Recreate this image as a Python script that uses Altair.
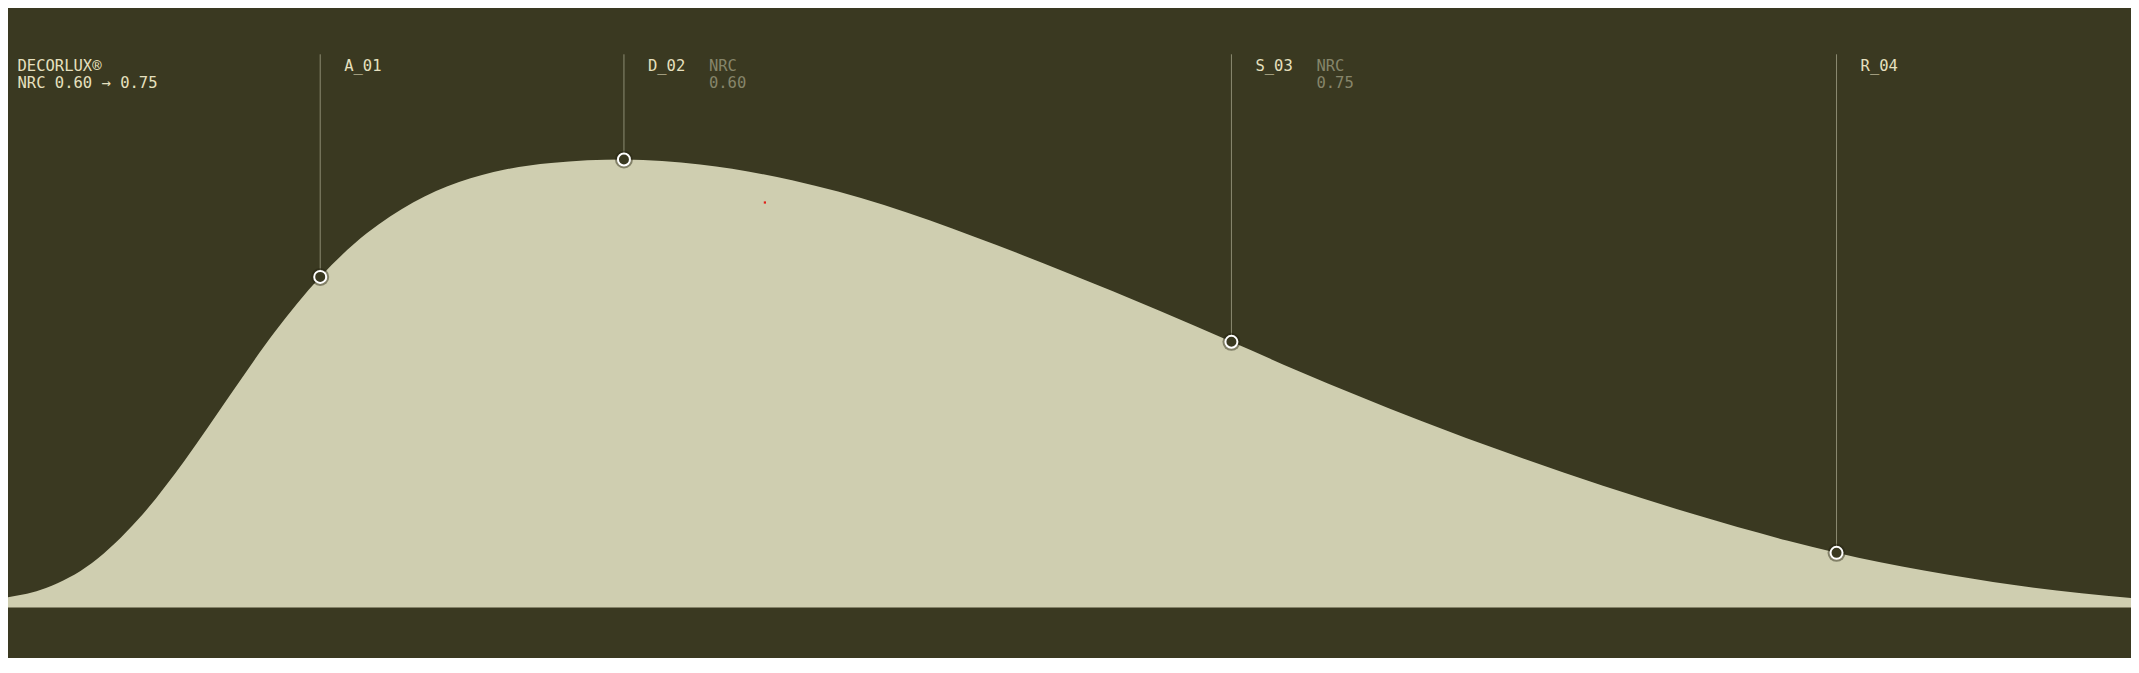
import altair as alt
import pandas as pd

# absorption curve, x = position along the band (0-100), y = relative absorption (peak = 1)
curve_x = [0, 2.15, 4.30, 6.45, 8.60, 10.75, 12.86, 14.97, 17.16, 19.31, 21.46, 23.61,
           25.76, 29.17, 32.73, 37.03, 41.33, 45.58, 49.88, 54.18, 57.57, 60.64, 66.39,
           70.69, 74.94, 79.24, 83.54, 85.86, 89.95, 94.25, 100]
curve_y = [0.0205, 0.0433, 0.0993, 0.1962, 0.3261, 0.4737, 0.6161, 0.738, 0.8357, 0.9042,
           0.9498, 0.9777, 0.9922, 1.0, 0.9886, 0.9538, 0.8984, 0.8272, 0.7471, 0.6629,
           0.593, 0.5292, 0.4176, 0.3415, 0.2717, 0.2074, 0.1496, 0.122, 0.0824, 0.0496, 0.0194]

# products marked on the curve
marker_id = ["A_01", "D_02", "S_03", "R_04"]
marker_x = [14.97, 29.17, 57.57, 85.86]
marker_y = [0.738, 1.0, 0.593, 0.122]

nrc_id = ["D_02", "S_03"]
nrc_x = [29.17, 57.57]
nrc_val = ["0.60", "0.75"]

title_lines = ["DECORLUX®", "NRC 0.60 → 0.75"]

# stray red dot
dot_x = [35.76]
dot_y = [0.904]

BG = "#3a3921"
FILL = "#cfceb0"
FONT = "DejaVu Sans Mono"

curve = pd.DataFrame({"x": curve_x, "y": curve_y})
markers = pd.DataFrame({"id": marker_id, "x": marker_x, "y": marker_y})
nrc = pd.DataFrame({"id": nrc_id, "x": nrc_x, "val": nrc_val})
dot = pd.DataFrame({"x": dot_x, "y": dot_y})

xs = alt.Scale(domain=[0, 100], range=[-8, 2131], nice=False, zero=False)
ys = alt.Scale(domain=[0, 1], range=[599.5, 151.5], nice=False, zero=False)
X = alt.X("x:Q", scale=xs, axis=None)
Y = alt.Y("y:Q", scale=ys, axis=None)

area = alt.Chart(curve).mark_area(color=FILL, interpolate="monotone").encode(x=X, y=Y)

rules = alt.Chart(markers).mark_rule(color="#8c8b72", strokeWidth=1).encode(
    x=X, y=Y, y2=alt.value(46.3)
)

halo = alt.Chart(markers).mark_point(
    shape="circle", filled=True, size=324, color="#23220f", opacity=0.45
).encode(x=X, y=Y)

points = alt.Chart(markers).mark_point(
    shape="circle", filled=True, size=144, fill=BG, stroke="#ffffff", strokeWidth=2, opacity=1
).encode(x=X, y=Y)

red = alt.Chart(dot).mark_square(size=5, color="#e0201a", opacity=1).encode(x=X, y=Y)

ids = alt.Chart(markers).mark_text(
    font=FONT, fontSize=15.5, color="#e6e0bf", align="left", baseline="alphabetic", dx=24
).encode(x=X, y=alt.value(62.7), text="id:N")

nrc_head = alt.Chart(nrc).mark_text(
    font=FONT, fontSize=15.5, color="#86856a", align="left", baseline="alphabetic", dx=85, text="NRC"
).encode(x=X, y=alt.value(62.7))

nrc_num = alt.Chart(nrc).mark_text(
    font=FONT, fontSize=15.5, color="#86856a", align="left", baseline="alphabetic", dx=85
).encode(x=X, y=alt.value(80.4), text="val:N")

title = alt.Chart(pd.DataFrame({"k": [0]})).mark_text(
    font=FONT, fontSize=15.5, color="#e6e0bf", align="left", baseline="alphabetic",
    text=title_lines, lineHeight=17.7
).encode(x=alt.value(9.5), y=alt.value(62.7))

chart = alt.layer(area, rules, halo, points, red, ids, nrc_head, nrc_num, title).properties(
    width=2123, height=650, padding=0, background=BG,
    autosize=alt.AutoSizeParams(type="none")
).configure_view(stroke=None)

chart.save("out.html", embed_options={"renderer": "svg", "actions": False})
